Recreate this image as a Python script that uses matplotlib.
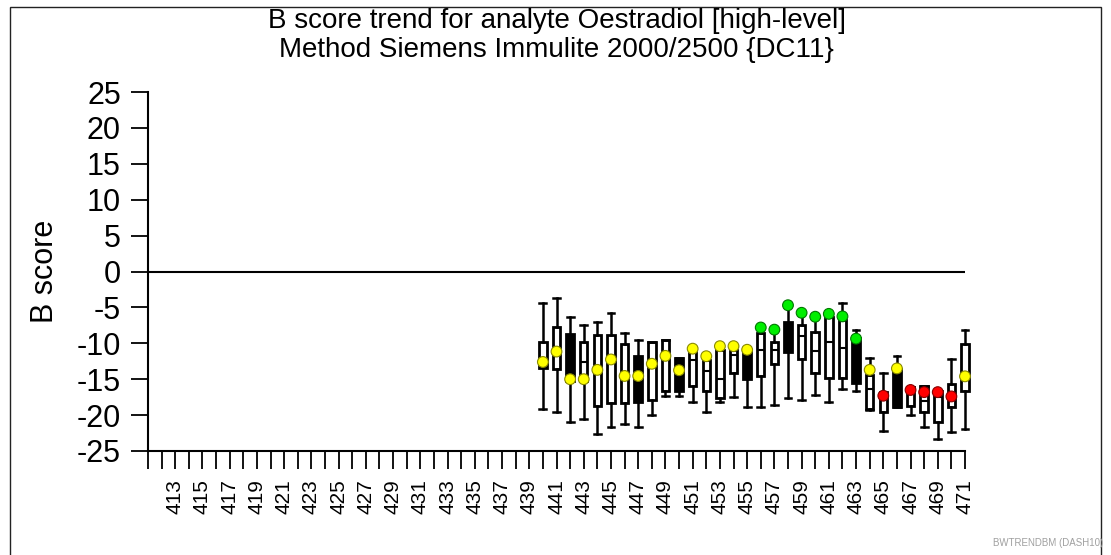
import matplotlib
matplotlib.use("Agg")
import matplotlib.pyplot as plt
from matplotlib.patches import Rectangle

plt.rcParams['font.family'] = ['Liberation Sans', 'DejaVu Sans']

# ---- data ----
rounds = list(range(440, 472))
whisker_low = [-19.2, -19.6, -21.0, -20.5, -22.6, -21.6, -21.3, -21.6, -20.0, -17.3,
               -17.3, -18.2, -19.6, -18.2, -17.5, -18.9, -18.9, -18.6, -17.6, -17.9,
               -17.2, -18.2, -16.3, -16.6, -19.3, -22.2, -18.9, -20.0, -21.6, -23.3,
               -22.3, -21.9]
q1 = [-13.4, -13.6, -15.2, -15.2, -18.7, -18.3, -18.3, -18.2, -17.9, -16.7,
      -16.7, -15.9, -16.6, -17.6, -14.2, -15.0, -14.6, -12.9, -11.2, -12.2,
      -14.2, -14.9, -14.9, -15.5, -19.2, -19.5, -18.9, -18.8, -19.6, -21.0,
      -18.9, -16.6]
median = [-12.5, -11.0, -12.0, -12.6, -13.5, -12.3, -14.5, -14.5, -12.8, -11.8,
          -13.8, -12.3, -13.9, -15.0, -11.6, -12.5, -10.9, -11.0, -9.0, -9.0,
          -11.1, -9.8, -10.6, -12.0, -16.3, -17.6, -15.0, -17.0, -18.0, -17.5,
          -17.3, -14.6]
q3 = [-9.8, -7.7, -8.7, -9.8, -8.8, -8.8, -10.1, -11.8, -9.8, -9.5,
      -12.1, -11.2, -12.3, -11.0, -11.0, -11.2, -8.6, -9.8, -7.0, -7.4,
      -8.4, -6.3, -6.8, -9.3, -14.4, -16.8, -13.6, -16.1, -16.0, -16.6,
      -15.6, -10.1]
whisker_high = [-4.4, -3.7, -6.4, -7.4, -7.1, -5.8, -8.5, -9.5, -9.8, -9.5,
                -12.1, -10.5, -11.8, -10.4, -10.4, -10.9, -7.8, -8.1, -4.8, -5.8,
                -6.3, -5.9, -4.4, -8.1, -12.1, -14.1, -11.8, -16.1, -16.0, -16.6,
                -12.2, -8.1]
lab_score = [-12.6, -11.15, -15.0, -15.0, -13.7, -12.25, -14.55, -14.55, -12.85, -11.75,
             -13.75, -10.75, -11.8, -10.4, -10.4, -10.9, -7.8, -8.1, -4.7, -5.75,
             -6.3, -5.9, -6.25, -9.35, -13.7, -17.3, -13.5, -16.5, -16.8, -16.8,
             -17.4, -14.6]
score_flag = ['Y'] * 16 + ['G'] * 8 + ['Y', 'R', 'Y', 'R', 'R', 'R', 'R', 'Y']
box_filled = [0, 0, 1, 0, 0, 0, 0, 1, 0, 0,
              1, 0, 0, 0, 0, 1, 0, 0, 1, 0,
              0, 0, 0, 1, 0, 0, 1, 0, 0, 0,
              0, 0]
y_ticks = list(range(-25, 30, 5))
x_first, x_last = 411, 471

title_line1 = "B score trend for analyte Oestradiol [high-level]"
title_line2 = "Method Siemens Immulite 2000/2500 {DC11}"

flag_face = {'Y': '#ffff00', 'G': '#00ee00', 'R': '#ff0000'}
flag_edge = {'Y': '#8a8a00', 'G': '#007700', 'R': '#880000'}

# ---- figure ----
W, H = 1111, 555
fig = plt.figure(figsize=(W / 100, H / 100), dpi=100)
fig.patch.set_facecolor('white')
ax = fig.add_axes([148 / W, 1 - 451 / H, (965 - 148) / W, (451 - 92) / H])

stats = []
for i in range(len(rounds)):
    stats.append(dict(med=median[i], q1=q1[i], q3=q3[i],
                      whislo=whisker_low[i], whishi=whisker_high[i], fliers=[]))

res = ax.bxp(stats, positions=rounds, widths=0.55, capwidths=0.5,
             patch_artist=True, showfliers=False,
             boxprops=dict(linewidth=2.0, edgecolor='black', facecolor='white'),
             whiskerprops=dict(linewidth=1.8, color='black'),
             capprops=dict(linewidth=1.8, color='black'),
             medianprops=dict(linewidth=1.5, color='black'),
             manage_ticks=False, zorder=3)
for patch, f in zip(res['boxes'], box_filled):
    patch.set_facecolor('black' if f else 'white')
    patch.set_clip_on(False)
for key in ('whiskers', 'caps', 'medians'):
    for art in res[key]:
        art.set_clip_on(False)

ax.scatter(rounds, lab_score, s=60,
           c=[flag_face[f] for f in score_flag],
           edgecolors=[flag_edge[f] for f in score_flag],
           linewidths=0.8, zorder=5, clip_on=False)

ax.plot([x_first, x_last], [0, 0], color='black', linewidth=1.5, zorder=2)

ax.set_xlim(x_first, x_last)
ax.set_ylim(-25, 25)
for s in ('top', 'right'):
    ax.spines[s].set_visible(False)
for s in ('left', 'bottom'):
    ax.spines[s].set_linewidth(1.5)

xt = list(range(x_first, x_last + 1))
ax.set_xticks(xt)
ax.set_xticklabels([str(v) if (v % 2 == 1 and v >= 413) else '' for v in xt],
                   rotation=90, fontsize=15)
ax.set_yticks(y_ticks)
ax.set_yticklabels([str(v) for v in y_ticks], fontsize=22)
ax.tick_params(axis='x', direction='out', length=13, width=1.3, pad=7)
ax.tick_params(axis='y', direction='out', length=12.5, width=1.3, pad=7)

fig.text(45 / W, 1 - 271 / H, 'B score', rotation=90, ha='center', va='center', fontsize=22)
fig.text(556.5 / W, 1 - 21 / H, title_line1, ha='center', va='center', fontsize=20)
fig.text(556.5 / W, 1 - 50 / H, title_line2, ha='center', va='center', fontsize=20)

fig.text(993 / W, 1 - 543 / H, 'BWTRENDBM (DASH10)', fontsize=7, color='#a0a0a0',
         ha='left', va='center')

fig.patches.append(Rectangle((10 / W, -0.05), 1091 / W, 1.05 - 7 / H,
                             transform=fig.transFigure, fill=False,
                             edgecolor='#222222', linewidth=1.0))

fig.savefig('out.png', dpi=100)
